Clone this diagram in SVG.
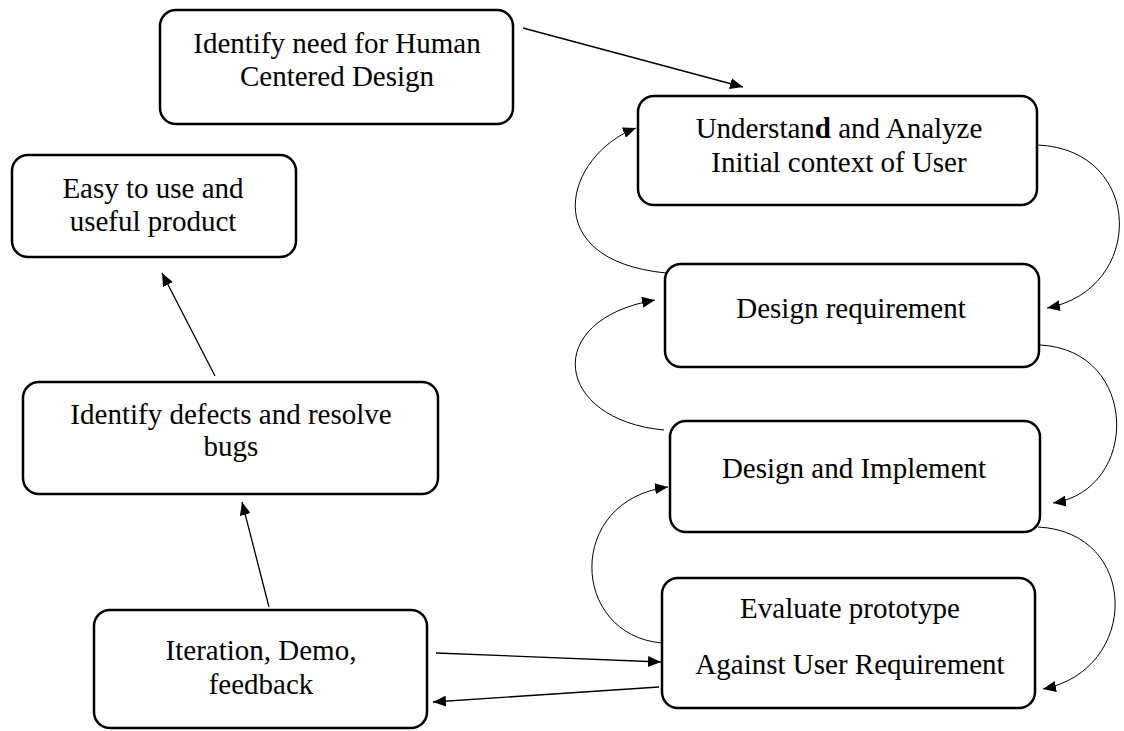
<svg xmlns="http://www.w3.org/2000/svg" width="1124" height="731" viewBox="0 0 1124 731">
<style>
.box{fill:#fff;stroke:#000;stroke-width:2.5}
.t{font-family:"Liberation Serif","Times New Roman",serif;font-size:29px;fill:#000;text-anchor:middle}
.ln{fill:none;stroke:#000;stroke-width:1.3}
.cv{fill:none;stroke:#000;stroke-width:1}
</style>
<defs>
<marker id="ah" markerUnits="userSpaceOnUse" markerWidth="14" markerHeight="11" refX="13" refY="5.5" orient="auto">
<path d="M0,0 L13,5.5 L0,11 z" fill="#000"/>
</marker>
</defs>
<rect width="1124" height="731" fill="#fff"/>
<g id="connectors">
<path class="ln" d="M523,28 L743,87" marker-end="url(#ah)"/>
<path class="ln" d="M215,376 L162,273" marker-end="url(#ah)"/>
<path class="ln" d="M269,607 L242,502" marker-end="url(#ah)"/>
<path class="ln" d="M436,653 L661,662" marker-end="url(#ah)"/>
<path class="ln" d="M659,687 L433,702" marker-end="url(#ah)"/>
<path class="cv" d="M666,273 C535,260 565,155 636,128" marker-end="url(#ah)"/>
<path class="cv" d="M1038,145 C1145,150 1145,290 1047,308" marker-end="url(#ah)"/>
<path class="cv" d="M664,430 C555,420 540,320 655,300" marker-end="url(#ah)"/>
<path class="cv" d="M1040,345 C1140,350 1140,490 1053,503" marker-end="url(#ah)"/>
<path class="cv" d="M662,643 C570,635 565,500 668,487" marker-end="url(#ah)"/>
<path class="cv" d="M1038,527 C1140,532 1140,670 1043,689" marker-end="url(#ah)"/>
</g>
<g id="n1"><rect class="box" x="160" y="10" width="353" height="114" rx="16"/>
<text class="t" x="337" y="53">Identify need for Human</text><text class="t" x="337" y="86">Centered Design</text></g>
<g id="n2"><rect class="box" x="638" y="96" width="399" height="109" rx="16"/>
<text class="t" x="839" y="138">Understan<tspan font-weight="bold">d</tspan> and Analyze</text><text class="t" x="839" y="172">Initial context of User</text></g>
<g id="n3"><rect class="box" x="665" y="264" width="374" height="103" rx="16"/>
<text class="t" x="851" y="318">Design requirement</text></g>
<g id="n4"><rect class="box" x="670" y="421" width="370" height="111" rx="16"/>
<text class="t" x="854" y="478">Design and Implement</text></g>
<g id="n5"><rect class="box" x="662" y="578" width="373" height="130" rx="16"/>
<text class="t" x="850" y="618">Evaluate prototype</text><text class="t" x="850" y="674">Against User Requirement</text></g>
<g id="n6"><rect class="box" x="12" y="155" width="284" height="102" rx="16"/>
<text class="t" x="153" y="198">Easy to use and</text><text class="t" x="153" y="231">useful product</text></g>
<g id="n7"><rect class="box" x="23" y="382" width="415" height="112" rx="16"/>
<text class="t" x="231" y="424">Identify defects and resolve</text><text class="t" x="231" y="456">bugs</text></g>
<g id="n8"><rect class="box" x="94" y="610" width="333" height="118" rx="16"/>
<text class="t" x="261" y="660">Iteration, Demo,</text><text class="t" x="261" y="694">feedback</text></g>
</svg>
